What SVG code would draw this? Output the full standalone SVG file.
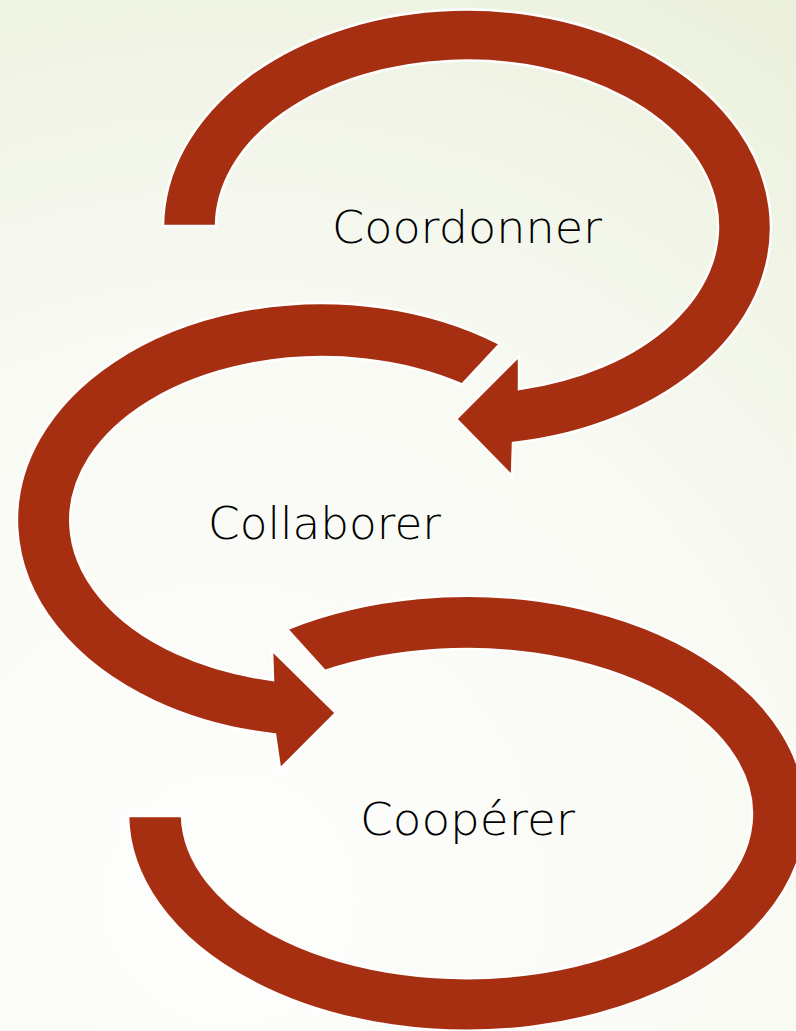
<svg xmlns="http://www.w3.org/2000/svg" width="796" height="1031" viewBox="0 0 796 1031">
  <defs>
    <radialGradient id="bg" cx="230" cy="900" r="1050" gradientUnits="userSpaceOnUse">
      <stop offset="0" stop-color="#FEFEFD"/>
      <stop offset="0.55" stop-color="#F8FAF3"/>
      <stop offset="1" stop-color="#EBF0DC"/>
    </radialGradient>
    <style>
      .arrow { fill: #A62F12; stroke: #FFFFFF; stroke-width: 2.5; stroke-linejoin: miter; }
      .label { font-family: "DejaVu Sans", "Liberation Sans", sans-serif; font-weight: 200; font-size: 44px; fill: #000000; }
    </style>
  </defs>
  <rect x="0" y="0" width="796" height="1031" fill="url(#bg)"/>
  <g id="connectors">
    <path id="arrow-coordonner" class="arrow" d="M 163,226 A 304 218 0 1 1 513,443 L 512,476 L 456,419 L 519,356 L 519,389 A 251 166 0 1 0 216,226 Z"/>
    <path id="arrow-collaborer" class="arrow" d="M 500,343.8 A 305 217 0 1 0 275,734.4 L 280,769 L 336,713 L 272,650 L 273,680 A 252 163 0 1 1 462,384.5 Z"/>
    <path id="arrow-cooperer" class="arrow" d="M 128,816 A 339 217.5 0 1 0 287,629 L 325,671 A 285 164.5 0 1 1 182,816 Z"/>
  </g>
  <g id="node-coordonner">
    <text class="label" x="332" y="243" textLength="270" lengthAdjust="spacingAndGlyphs">Coordonner</text>
  </g>
  <g id="node-collaborer">
    <text class="label" x="208" y="539" textLength="233" lengthAdjust="spacingAndGlyphs">Collaborer</text>
  </g>
  <g id="node-cooperer">
    <text class="label" x="360" y="835" textLength="215" lengthAdjust="spacingAndGlyphs">Coopérer</text>
  </g>
</svg>
